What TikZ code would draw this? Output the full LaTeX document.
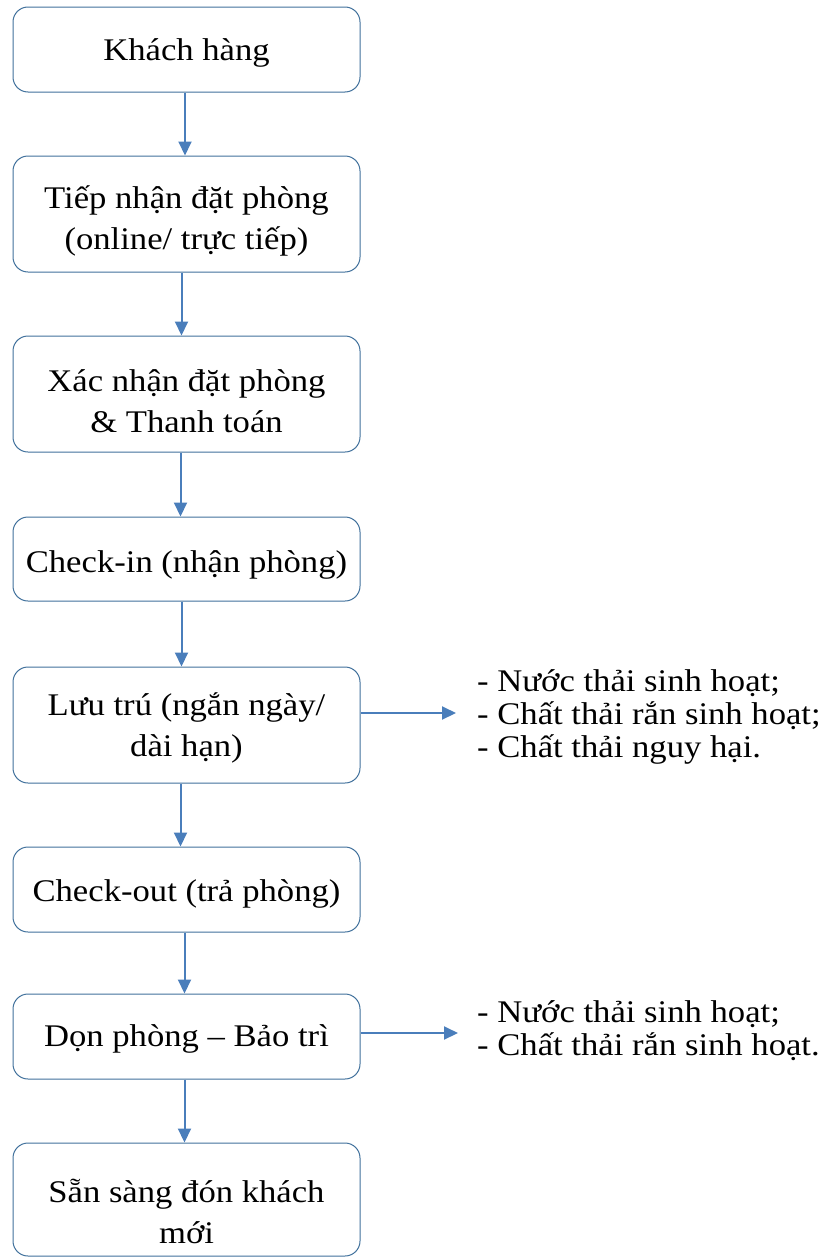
\documentclass[tikz,border=0pt]{standalone}
\usepackage{fontspec}
\setmainfont{Liberation Serif}[FakeStretch=1.1]
\usetikzlibrary{arrows.meta}
\definecolor{boxline}{RGB}{65,113,156}
\definecolor{arrowblue}{RGB}{74,126,187}
\begin{document}
\begin{tikzpicture}[x=1pt,y=-1pt,
  stepbox/.style={draw=boxline,line width=1pt,rounded corners=15pt,fill=white,
    minimum width=347pt,inner sep=0pt},
  boxtext/.style={align=center,inner sep=0pt,font=\fontsize{31.5}{41}\selectfont},
  flow/.style={draw=arrowblue,line width=2pt,-{Triangle[length=14pt,width=13pt]}},
  sidetext/.style={anchor=west,align=left,inner sep=0pt,font=\fontsize{31.5}{33}\selectfont}]
\useasboundingbox (0,0) rectangle (827,1258);
\node[stepbox,minimum height=85pt] (b1) at (186.5,49.5) {};
\node[stepbox,minimum height=116pt] (b2) at (186.5,214) {};
\node[stepbox,minimum height=116pt] (b3) at (186.5,394) {};
\node[stepbox,minimum height=84pt] (b4) at (186.5,559) {};
\node[stepbox,minimum height=116pt] (b5) at (186.5,725) {};
\node[stepbox,minimum height=85pt] (b6) at (186.5,889.5) {};
\node[stepbox,minimum height=85pt] (b7) at (186.5,1036.5) {};
\node[stepbox,minimum height=113pt] (b8) at (186.5,1199.5) {};
\node[boxtext] (t1) at (186.5,53) {Khách hàng};
\node[boxtext] (t2) at (186.5,221) {Tiếp nhận đặt phòng\\(online/ trực tiếp)};
\node[boxtext] (t3) at (186.5,401) {Xác nhận đặt phòng\\\& Thanh toán};
\node[boxtext] (t4) at (186.5,565) {Check-in (nhận phòng)};
\node[boxtext] (t5) at (186.5,728) {Lưu trú (ngắn ngày/\\dài hạn)};
\node[boxtext] (t6) at (186.5,894) {Check-out (trả phòng)};
\node[boxtext] (t7) at (186.5,1039) {Dọn phòng – Bảo trì};
\node[boxtext] (t8) at (186.5,1211) {Sẵn sàng đón khách\\mới};
\draw[flow] ([xshift=-1.5pt]b1.south) -- ([xshift=-1.5pt]b2.north);
\draw[flow] ([xshift=-5pt]b2.south) -- ([xshift=-5pt]b3.north);
\draw[flow] ([xshift=-6pt]b3.south) -- ([xshift=-6pt]b4.north);
\draw[flow] ([xshift=-5pt]b4.south) -- ([xshift=-5pt]b5.north);
\draw[flow] ([xshift=-6pt]b5.south) -- ([xshift=-6pt]b6.north);
\draw[flow] ([xshift=-2pt]b6.south) -- ([xshift=-2pt]b7.north);
\draw[flow] ([xshift=-2pt]b7.south) -- ([xshift=-2pt]b8.north);
\node[sidetext] (s1) at (477,717) {- Nước thải sinh hoạt;\\- Chất thải rắn sinh hoạt;\\- Chất thải nguy hại.};
\node[sidetext] (s2) at (477,1030.5) {- Nước thải sinh hoạt;\\- Chất thải rắn sinh hoạt.};
\coordinate (e1) at (456,713);
\coordinate (e2) at (458,1033);
\draw[flow] (b5.east |- e1) -- (e1);
\draw[flow] (b7.east |- e2) -- (e2);
\end{tikzpicture}
\end{document}
